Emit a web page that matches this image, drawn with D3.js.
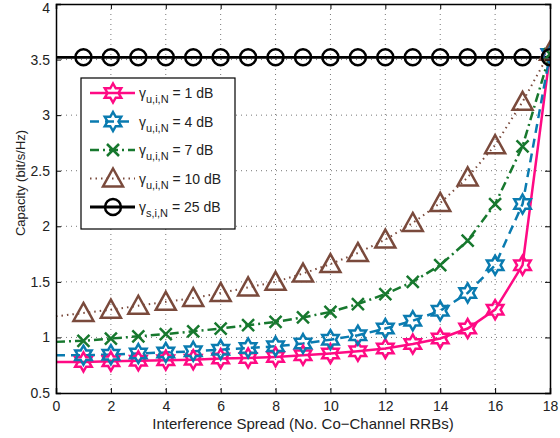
<!DOCTYPE html>
<html>
<head>
<meta charset="utf-8">
<script src="https://cdn.jsdelivr.net/npm/d3@7"></script>
<style>
  body { margin: 0; background: #fff; }
  svg { font-family: "Liberation Sans", Arial, sans-serif; }
</style>
</head>
<body>
<svg id="chart" width="560" height="438"></svg>
<script>
// data
const spread = d3.range(0, 19);
const cap1dB  = [0.78, 0.78, 0.785, 0.79, 0.795, 0.80, 0.81, 0.815, 0.825, 0.84, 0.855, 0.875, 0.90, 0.94, 0.99, 1.08, 1.25, 1.65, 3.55];
const cap4dB  = [0.84, 0.84, 0.845, 0.855, 0.865, 0.875, 0.89, 0.905, 0.92, 0.945, 0.98, 1.02, 1.08, 1.15, 1.24, 1.40, 1.65, 2.20, 3.55];
const cap7dB  = [0.96, 0.97, 0.99, 1.01, 1.03, 1.055, 1.08, 1.11, 1.14, 1.18, 1.23, 1.30, 1.39, 1.50, 1.65, 1.87, 2.20, 2.72, 3.55];
const cap10dB = [1.19, 1.22, 1.25, 1.285, 1.32, 1.355, 1.40, 1.45, 1.50, 1.575, 1.66, 1.76, 1.88, 2.03, 2.21, 2.44, 2.73, 3.12, 3.57];
const cap25dB = [3.52, 3.52, 3.52, 3.52, 3.52, 3.52, 3.52, 3.52, 3.52, 3.52, 3.52, 3.52, 3.52, 3.52, 3.52, 3.52, 3.52, 3.52, 3.52];
const xTicks = [0, 2, 4, 6, 8, 10, 12, 14, 16, 18];
const yTicks = [0.5, 1, 1.5, 2, 2.5, 3, 3.5, 4];

const series = [
  { sub: "u,i,N", db: 1,  values: cap1dB,  color: "#ff0a84", dash: null,      width: 2.5, marker: "hexagram" },
  { sub: "u,i,N", db: 4,  values: cap4dB,  color: "#0a7bb0", dash: "9,6",     width: 2.5, marker: "hexagram" },
  { sub: "u,i,N", db: 7,  values: cap7dB,  color: "#17782e", dash: "9,4,2,4", width: 2.5, marker: "x" },
  { sub: "u,i,N", db: 10, values: cap10dB, color: "#7a4a3c", dash: "1.5,4",   width: 2,   marker: "triangle" },
  { sub: "s,i,N", db: 25, values: cap25dB, color: "#000000", dash: null,      width: 2.8, marker: "circle" }
];

const svg = d3.select("#chart");
const margin = { left: 56, right: 10, top: 4, bottom: 45 };
const width = 560 - margin.left - margin.right;
const height = 438 - margin.top - margin.bottom;

const x = d3.scaleLinear().domain([0, 18]).range([0, width]);
const y = d3.scaleLinear().domain([0.5, 4]).range([height, 0]);

const g = svg.append("g").attr("transform", `translate(${margin.left},${margin.top})`);

// grid
g.append("g").selectAll("line").data(xTicks.slice(1, -1)).enter().append("line")
  .attr("x1", d => x(d)).attr("x2", d => x(d)).attr("y1", 0).attr("y2", height)
  .attr("stroke", "#777").attr("stroke-width", 1).attr("stroke-dasharray", "1,4");
g.append("g").selectAll("line").data(yTicks.slice(1, -1)).enter().append("line")
  .attr("y1", d => y(d)).attr("y2", d => y(d)).attr("x1", 0).attr("x2", width)
  .attr("stroke", "#777").attr("stroke-width", 1).attr("stroke-dasharray", "1,4");

// marker shapes
function markerPath(type) {
  if (type === "hexagram") {
    const R = 9.5, r = R / Math.sqrt(3);
    const pts = d3.range(12).map(i => {
      const a = -Math.PI / 2 + i * Math.PI / 6;
      const rr = i % 2 === 0 ? R : r;
      return [rr * Math.cos(a), rr * Math.sin(a)];
    });
    return d3.line()(pts) + "Z";
  }
  if (type === "x") return "M-6,-6L6,6M-6,6L6,-6";
  if (type === "triangle") return "M0,-10L10,8L-10,8Z";
  if (type === "circle") return d3.symbol(d3.symbolCircle, 200)();
  return "";
}

svg.append("defs").append("clipPath").attr("id", "clip")
  .append("rect").attr("x", -1).attr("y", -1).attr("width", width + 2).attr("height", height + 2);

const plot = g.append("g").attr("clip-path", "url(#clip)");
const line = d3.line().x((d, i) => x(spread[i])).y(d => y(d));

series.forEach(s => {
  plot.append("path").datum(s.values).attr("d", line)
    .attr("fill", "none").attr("stroke", s.color).attr("stroke-width", s.width)
    .attr("stroke-dasharray", s.dash);
});
series.forEach(s => {
  plot.append("g").selectAll("path").data(s.values.slice(1)).enter().append("path")
    .attr("transform", (d, i) => `translate(${x(spread[i + 1])},${y(d)})`)
    .attr("d", markerPath(s.marker))
    .attr("fill", "none").attr("stroke", s.color).attr("stroke-width", 2.5)
    .attr("stroke-linejoin", "miter");
});

// axes
const xAxis = d3.axisBottom(x).tickValues(xTicks).tickSize(-5).tickPadding(8).tickFormat(d3.format("d"));
const yAxis = d3.axisLeft(y).tickValues(yTicks).tickSize(-5).tickPadding(6).tickFormat(d => d);
g.append("g").attr("transform", `translate(0,${height})`).call(xAxis);
const yAxisG = g.append("g").call(yAxis);
g.append("g").call(d3.axisTop(x).tickValues(xTicks).tickSize(-5).tickFormat(""));
g.append("g").attr("transform", `translate(${width},0)`).call(d3.axisRight(y).tickValues(yTicks).tickSize(-5).tickFormat(""));
g.selectAll(".domain").attr("stroke", "#000").attr("stroke-width", 1.5);
g.selectAll(".tick text").attr("font-size", 14).attr("fill", "#222").attr("font-family", "Liberation Sans, Arial, sans-serif");
g.selectAll(".tick line").attr("stroke", "#000");
// keep the top label inside the picture
yAxisG.selectAll(".tick text").filter(d => d === 4).attr("dy", "0.72em").attr("y", -2);

// axis labels
svg.append("text").attr("x", margin.left + width / 2).attr("y", 429)
  .attr("text-anchor", "middle").attr("font-size", 15).attr("fill", "#222")
  .text("Interference Spread (No. Co\u2212Channel RRBs)");
svg.append("text").attr("transform", "translate(25,183) rotate(-90)")
  .attr("text-anchor", "middle").attr("font-size", 13).attr("fill", "#222")
  .text("Capacity (bit/s/Hz)");

// legend
const lg = svg.append("g").attr("transform", "translate(81,78)");
lg.append("rect").attr("width", 154).attr("height", 151)
  .attr("fill", "#fff").attr("stroke", "#000").attr("stroke-width", 1.2);
series.forEach((s, i) => {
  const ry = 15 + i * 28.5;
  lg.append("line").attr("x1", 9).attr("x2", 54).attr("y1", ry).attr("y2", ry)
    .attr("stroke", s.color).attr("stroke-width", s.width).attr("stroke-dasharray", s.dash);
  lg.append("path").attr("transform", `translate(32,${ry})`).attr("d", markerPath(s.marker))
    .attr("fill", "none").attr("stroke", s.color).attr("stroke-width", 2.5);
  const t = lg.append("text").attr("x", 58).attr("y", ry + 5).attr("font-size", 14).attr("fill", "#222");
  t.append("tspan").text("γ");
  t.append("tspan").attr("font-size", 11).attr("dy", 5).text(s.sub);
  t.append("tspan").attr("dy", -5).text(` = ${s.db} dB`);
});
</script>
</body>
</html>
